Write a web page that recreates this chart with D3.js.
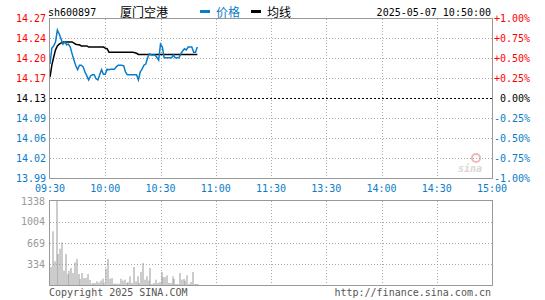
<!DOCTYPE html>
<html>
<head>
<meta charset="utf-8">
<script src="https://cdn.jsdelivr.net/npm/d3@7"></script>
<style>
  body { margin: 0; background: #fff; }
  text { font-family: "DejaVu Sans Mono", monospace; font-size: 10px; }
  .cjk { font-family: "Noto Sans CJK SC", sans-serif; font-size: 12px; }
</style>
</head>
<body>
<div id="chart"></div>
<script>
// stock info
var code = "sh600897", stockName = "厦门空港", stamp = "2025-05-07 10:50:00";
var prevClose = 14.13;

// price per minute from 09:30 (minute 0) to 10:50 (minute 80)
var price = [14.19, 14.218, 14.222, 14.229, 14.25, 14.243, 14.234, 14.225, 14.229, 14.224,
  14.225, 14.22, 14.208, 14.197, 14.187, 14.18, 14.188, 14.188, 14.185, 14.176,
  14.169, 14.162, 14.169, 14.171, 14.171, 14.164, 14.162, 14.171, 14.18, 14.172,
  14.172, 14.181, 14.18, 14.181, 14.181, 14.181, 14.185, 14.188, 14.188, 14.188,
  14.187, 14.176, 14.171, 14.171, 14.171, 14.171, 14.171, 14.171, 14.162, 14.176,
  14.181, 14.188, 14.19, 14.201, 14.208, 14.206, 14.206, 14.206, 14.202, 14.197,
  14.225, 14.22, 14.201, 14.201, 14.201, 14.201, 14.201, 14.206, 14.201, 14.201,
  14.201, 14.208, 14.213, 14.217, 14.215, 14.22, 14.22, 14.22, 14.211, 14.211, 14.22];

// average price line
var avgPrice = [14.167, 14.188, 14.202, 14.215, 14.222, 14.225, 14.227, 14.229, 14.229, 14.229,
  14.229, 14.229, 14.229, 14.227, 14.225, 14.224, 14.224, 14.222, 14.222, 14.222,
  14.222, 14.22, 14.22, 14.22, 14.22, 14.22, 14.22, 14.22, 14.22, 14.22,
  14.218, 14.217, 14.211, 14.211, 14.211, 14.211, 14.211, 14.211, 14.211, 14.211,
  14.211, 14.211, 14.211, 14.211, 14.211, 14.211, 14.21, 14.209, 14.207, 14.207,
  14.207, 14.207, 14.207, 14.207, 14.207, 14.207, 14.207, 14.207, 14.207, 14.207,
  14.207, 14.207, 14.207, 14.207, 14.207, 14.207, 14.207, 14.207, 14.207, 14.207,
  14.207, 14.207, 14.207, 14.207, 14.207, 14.207, 14.207, 14.207, 14.207, 14.207, 14.207];

// volume per minute (lots)
var volume = [287, 855, 378, 1338, 494, 578, 680, 228, 494, 175,
  228, 271, 191, 361, 414, 175, 96, 191, 111, 111,
  175, 80, 16, 32, 32, 58, 37, 69, 100, 32,
  260, 414, 100, 111, 21, 21, 21, 21, 100, 69,
  85, 32, 48, 138, 32, 287, 58, 138, 32, 207,
  350, 85, 138, 69, 271, 16, 32, 85, 32, 48,
  207, 127, 127, 154, 32, 32, 138, 96, 16, 16,
  191, 85, 96, 69, 154, 16, 48, 207, 16, 16, 16];

// axis labels
var priceTicks = ["14.27", "14.24", "14.20", "14.17", "14.13", "14.09", "14.06", "14.02", "13.99"];
var pctTicks = ["+1.00%", "+0.75%", "+0.50%", "+0.25%", "0.00%", "-0.25%", "-0.50%", "-0.75%", "-1.00%"];
var timeLabels = ["09:30", "10:00", "10:30", "11:00", "11:30", "13:30", "14:00", "14:30", "15:00"];
var volTicks = [1338, 1004, 669, 334];

var width = 545, height = 300;
var red = "#ff0000", blue = "#0a7cc8", grid = "#aaa", frame = "#999";

var svg = d3.select("#chart").append("svg")
  .attr("width", width)
  .attr("height", height);

// scales
var x = d3.scaleLinear().domain([0, 240]).range([50, 492]);
var y = d3.scaleLinear().domain([prevClose * 0.99, prevClose * 1.01]).range([178, 18]);
var yv = d3.scaleLinear().domain([0, volTicks[0]]).range([285, 201]);
var pctLevels = d3.range(8, -1, -1).map(function(i) { return prevClose * (0.99 + i * 0.0025); });

// header
svg.append("text").attr("x", 48).attr("y", 16).text(code);
svg.append("text").attr("class", "cjk").attr("x", 120).attr("y", 17).text(stockName);
svg.append("rect").attr("x", 200).attr("y", 10).attr("width", 10).attr("height", 3).attr("fill", blue);
svg.append("text").attr("class", "cjk").attr("x", 216).attr("y", 17).attr("fill", blue).text("价格");
svg.append("rect").attr("x", 251).attr("y", 10).attr("width", 10).attr("height", 3).attr("fill", "#000");
svg.append("text").attr("class", "cjk").attr("x", 267).attr("y", 17).text("均线");
svg.append("text").attr("x", 491).attr("y", 16).attr("text-anchor", "end").text(stamp);

// sina watermark
svg.append("text")
  .attr("x", 458).attr("y", 172)
  .attr("font-family", "DejaVu Sans").attr("font-size", 15).attr("font-weight", "bold")
  .attr("font-style", "italic").attr("fill", "#d8d8d8").text("sina");
svg.append("circle").attr("cx", 476).attr("cy", 158).attr("r", 4)
  .attr("fill", "none").attr("stroke", "#f0b8b8").attr("stroke-width", 2);

// price panel grid
svg.append("g").selectAll("line")
  .data(pctLevels.slice(1, 8))
  .enter().append("line")
  .attr("x1", 50).attr("x2", 492)
  .attr("y1", function(d) { return Math.round(y(d)) + 0.5; })
  .attr("y2", function(d) { return Math.round(y(d)) + 0.5; })
  .attr("stroke", function(d, i) { return i == 3 ? "#000" : grid; })
  .attr("stroke-dasharray", function(d, i) { return i == 3 ? "2,2" : "1,2"; });

var timeTicks = d3.range(30, 240, 30);
svg.append("g").selectAll("line")
  .data(timeTicks)
  .enter().append("line")
  .attr("x1", function(d) { return Math.round(x(d)) + 0.5; })
  .attr("x2", function(d) { return Math.round(x(d)) + 0.5; })
  .attr("y1", 19).attr("y2", 178)
  .attr("stroke", grid).attr("stroke-dasharray", "1,2");

// price labels, left and right
svg.append("g").selectAll("text")
  .data(pctLevels)
  .enter().append("text")
  .attr("x", 46).attr("y", function(d) { return y(d); })
  .attr("dy", "0.35em").attr("text-anchor", "end")
  .attr("fill", function(d, i) { return i < 4 ? red : i == 4 ? "#000" : blue; })
  .text(function(d, i) { return priceTicks[i]; });

svg.append("g").selectAll("text")
  .data(pctLevels)
  .enter().append("text")
  .attr("x", function(d, i) { return i == 4 ? 500 : 494; }).attr("y", function(d) { return y(d); })
  .attr("dy", "0.35em")
  .attr("fill", function(d, i) { return i < 4 ? red : i == 4 ? "#000" : blue; })
  .text(function(d, i) { return pctTicks[i]; });

// time labels
svg.append("g").selectAll("text")
  .data(timeLabels)
  .enter().append("text")
  .attr("x", function(d, i) { return x(i * 30); }).attr("y", 192)
  .attr("text-anchor", "middle").attr("fill", blue)
  .text(function(d) { return d; });

// lines
var line = d3.line()
  .x(function(d, i) { return x(i); })
  .y(function(d) { return y(d); });

svg.append("path").datum(avgPrice)
  .attr("d", line).attr("fill", "none").attr("stroke", "#000").attr("stroke-width", 1.5);
svg.append("path").datum(price)
  .attr("d", line).attr("fill", "none").attr("stroke", blue).attr("stroke-width", 1.5);

svg.append("rect").attr("x", 49.5).attr("y", 18.5).attr("width", 443).attr("height", 160)
  .attr("fill", "none").attr("stroke", frame);

// volume panel
svg.append("g").selectAll("line")
  .data(volTicks.slice(1))
  .enter().append("line")
  .attr("x1", 50).attr("x2", 492)
  .attr("y1", function(d) { return Math.round(yv(d)) + 0.5; })
  .attr("y2", function(d) { return Math.round(yv(d)) + 0.5; })
  .attr("stroke", grid).attr("stroke-dasharray", "1,2");

svg.append("g").selectAll("line")
  .data(timeTicks)
  .enter().append("line")
  .attr("x1", function(d) { return Math.round(x(d)) + 0.5; })
  .attr("x2", function(d) { return Math.round(x(d)) + 0.5; })
  .attr("y1", 201).attr("y2", 285)
  .attr("stroke", grid).attr("stroke-dasharray", "1,2");

svg.append("g").selectAll("rect")
  .data(volume)
  .enter().append("rect")
  .attr("x", function(d, i) { return Math.round(x(i)) + 0.5; })
  .attr("y", function(d) { return yv(d); })
  .attr("width", 1)
  .attr("height", function(d) { return 285 - yv(d); })
  .attr("fill", "#999");

svg.append("g").selectAll("text")
  .data(volTicks)
  .enter().append("text")
  .attr("x", 45).attr("y", function(d) { return yv(d); })
  .attr("dy", "0.35em").attr("text-anchor", "end").attr("fill", "#999")
  .text(function(d) { return d; });

svg.append("rect").attr("x", 49.5).attr("y", 200.5).attr("width", 443).attr("height", 85)
  .attr("fill", "none").attr("stroke", frame);

// footer
svg.append("text").attr("x", 49).attr("y", 296).attr("fill", "#555").text("Copyright 2025 SINA.COM");
svg.append("text").attr("x", 491).attr("y", 296).attr("text-anchor", "end").attr("fill", "#555")
  .text("http://finance.sina.com.cn");
</script>
</body>
</html>
